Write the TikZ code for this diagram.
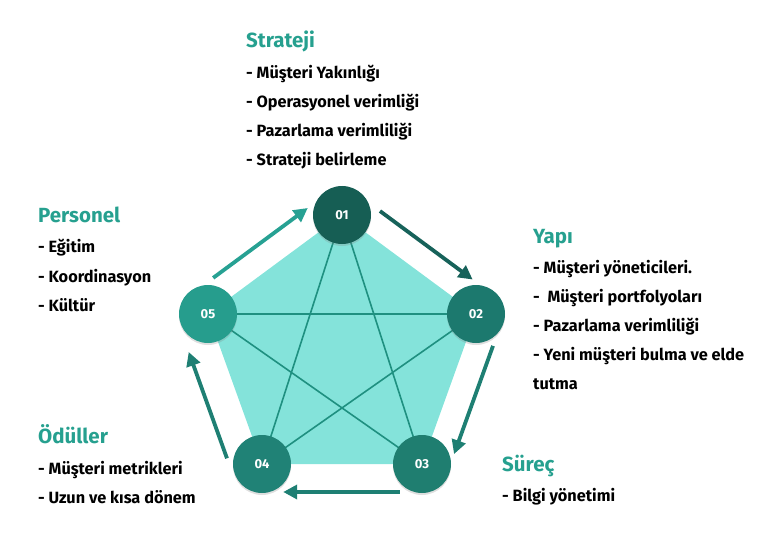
\documentclass[tikz,border=0pt]{standalone}
\usepackage{fontspec}
\setmainfont{Fira Sans}
\usetikzlibrary{positioning, arrows.meta, shadows}

\definecolor{headcol}{HTML}{26A08F}
\definecolor{pentcol}{HTML}{84E3DA}
\definecolor{linkcol}{HTML}{1F9080}
\definecolor{col01}{HTML}{165E54}
\definecolor{col02}{HTML}{1C796E}
\definecolor{col03}{HTML}{1F7E70}
\definecolor{col04}{HTML}{208276}
\definecolor{col05}{HTML}{269D8D}
\definecolor{arrdark}{HTML}{17625A}
\definecolor{arrmid}{HTML}{1E7F73}
\definecolor{arrlight}{HTML}{27A193}

\newcommand{\headfont}{\fontsize{20.5}{24}\selectfont\bfseries}
\newcommand{\entryfont}{\fontsize{16.3}{18}\selectfont\bfseries}
\newcommand{\numfont}{\fontsize{13}{14}\selectfont\bfseries}

\begin{document}
\begin{tikzpicture}[x=1pt,y=-1pt,>={Triangle[length=14pt,width=14pt]},
        stage/.style={circle,minimum size=58pt,inner sep=0pt,text=white,font=\numfont,
                      drop shadow={opacity=0.25,shadow xshift=0pt,shadow yshift=-2pt}},
        flow/.style={->,line width=3.8pt},
        starline/.style={draw=linkcol,line width=1.6pt},
        heading/.style={anchor=base west,inner sep=0pt,text=headcol,font=\headfont},
        entry/.style={anchor=base west,inner sep=0pt,font=\entryfont}]

  \useasboundingbox (0,0) rectangle (781,540);

  % pentagon corners
  \coordinate (P1) at (342,215);
  \coordinate (P2) at (476,314);
  \coordinate (P3) at (422,464);
  \coordinate (P4) at (262,464);
  \coordinate (P5) at (208,314);

  \fill[pentcol] (P1) -- (P2) -- (P3) -- (P4) -- (P5) -- cycle;

  \draw[starline] (P1) -- (P3) (P1) -- (P4) (P2) -- (P4) (P2) -- (P5) (P5) -- (P3);

  \node[stage,fill=col01] (C01) at (P1) {01};
  \node[stage,fill=col02] (C02) at (P2) {02};
  \node[stage,fill=col03] (C03) at (P3) {03};
  \node[stage,fill=col04] (C04) at (P4) {04};
  \node[stage,fill=col05] (C05) at (P5) {05};

  \draw[flow,arrdark,transform canvas={shift={(15.3,-20.7)}},shorten <=-1pt,shorten >=-6pt] (C01) -- (C02);
  \draw[flow,arrmid,transform canvas={shift={(25.2,9.1)}},shorten <=-5pt,shorten >=-9pt] (C02) -- (C03);
  \draw[flow,arrmid,transform canvas={shift={(0,28)}},shorten <=-7pt,shorten >=-8pt] (C03) -- (C04);
  \draw[flow,arrmid,transform canvas={shift={(-29.2,10.5)}},shorten <=-12pt,shorten >=0pt] (C04) -- (C05);
  \draw[flow,arrlight,transform canvas={shift={(-15.4,-20.9)}},shorten <=-3.6pt,shorten >=-5.8pt] (C05) -- (C01);

  % Strateji
  \node[heading] (Strateji) at (246,48) {Strateji};
  \node[entry] (Strateji1) [below=31pt of Strateji.base west,anchor=base west] {- Müşteri Yakınlığı};
  \node[entry] (Strateji2) [below=29pt of Strateji1.base west,anchor=base west] {- Operasyonel verimliği};
  \node[entry] (Strateji3) [below=29pt of Strateji2.base west,anchor=base west] {- Pazarlama verimliliği};
  \node[entry] (Strateji4) [below=29pt of Strateji3.base west,anchor=base west] {- Strateji belirleme};

  % Yapi
  \node[heading] (Yapi) at (533,243) {Yapı};
  \node[entry] (Yapi1) [below=30pt of Yapi.base west,anchor=base west] {- Müşteri yöneticileri.};
  \node[entry] (Yapi2) [below=29pt of Yapi1.base west,anchor=base west] {-~ Müşteri portfolyoları};
  \node[entry] (Yapi3) [below=29pt of Yapi2.base west,anchor=base west] {- Pazarlama verimliliği};
  \node[entry] (Yapi4) [below=29pt of Yapi3.base west,anchor=base west] {- Yeni müşteri bulma ve elde};
  \node[entry] (Yapi5) [below=29pt of Yapi4.base west,anchor=base west] {tutma};

  % Surec
  \node[heading] (Surec) at (502,471) {Süreç};
  \node[entry] (Surec1) [below=30pt of Surec.base west,anchor=base west] {- Bilgi yönetimi};

  % Personel
  \node[heading] (Personel) at (38,222) {Personel};
  \node[entry] (Personel1) [below=30pt of Personel.base west,anchor=base west] {- Eğitim};
  \node[entry] (Personel2) [below=30pt of Personel1.base west,anchor=base west] {- Koordinasyon};
  \node[entry] (Personel3) [below=29pt of Personel2.base west,anchor=base west] {- Kültür};

  % Oduller
  \node[heading] (Oduller) at (38,443) {Ödüller};
  \node[entry] (Oduller1) [below=31pt of Oduller.base west,anchor=base west] {- Müşteri metrikleri};
  \node[entry] (Oduller2) [below=29pt of Oduller1.base west,anchor=base west] {- Uzun ve kısa dönem};

\end{tikzpicture}
\end{document}
